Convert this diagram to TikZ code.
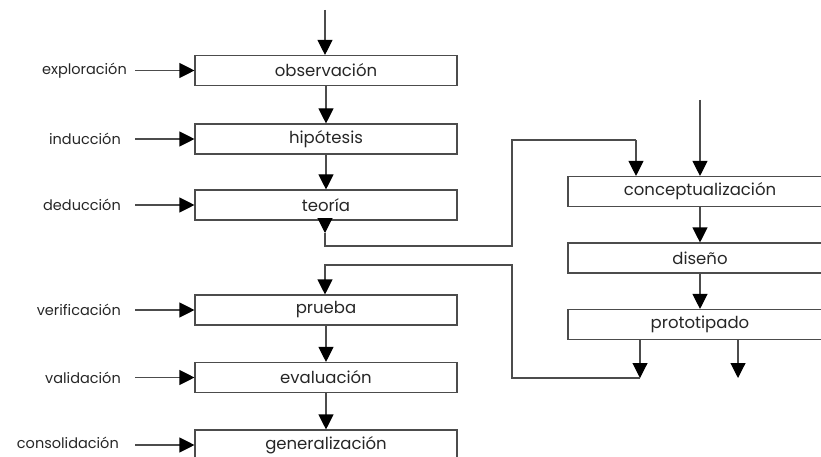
\documentclass[tikz,border=0pt]{standalone}
\usepackage{fontspec}
\setmainfont{Poppins}
\usetikzlibrary{arrows.meta,positioning}
\tikzset{step box/.style={rectangle, draw=black!70, line width=1.1pt,
    minimum width=262pt, minimum height=30pt, inner sep=0pt,
    font=\fontsize{16.5}{18}\selectfont, text=black!85}}
\tikzset{flow edge/.style={draw=black!70, line width=1.1pt,
    -{Triangle[width=15pt,length=15pt,fill=black,color=black]}}}
\tikzset{plain edge/.style={draw=black!70, line width=1.1pt}}
\tikzset{stage/.style={anchor=east, inner sep=0pt,
    font=\fontsize{14.5}{16}\selectfont, text=black!85}}

\begin{document}
\begin{tikzpicture}[x=1pt, y=-1pt]
  \useasboundingbox (0,0) rectangle (821,457);

  % left column
  \node [step box] (obs) at (326, 70.5) {observación};
  \node [step box] (hip) at (326, 139)  {hipótesis};
  \node [step box] (teo) at (326, 205)  {teoría};
  \node [step box] (pru) at (326, 310)  {prueba};
  \node [step box] (eva) at (326, 377.5) {evaluación};
  \node [step box] (gen) at (326, 445)  {generalización};

  % right column
  \node [step box, minimum width=264pt] (con) at (700, 191.5) {conceptualización};
  \node [step box, minimum width=264pt] (dis) at (700, 258)   {diseño};
  \node [step box, minimum width=264pt] (pro) at (700, 324.5) {prototipado};

  % stage labels
  \node [stage] (lexp) at (127, 70.5) {exploración};
  \node [stage] (lind) at (121, 139)  {inducción};
  \node [stage] (lded) at (121, 205)  {deducción};
  \node [stage] (lver) at (121, 310)  {verificación};
  \node [stage] (lval) at (121, 377.5) {validación};
  \node [stage] (lcon) at (119, 443)  {consolidación};

  \coordinate (lx)  at (135, 0);
  \coordinate (in1) at (325, 10);
  \coordinate (in2) at (700, 100);
  \coordinate (t1)  at (325, 233);
  \coordinate (p1)  at (640, 378);
  \coordinate (p2)  at (738, 378);

  \foreach \lab/\stepname in {lexp/obs, lind/hip, lded/teo, lver/pru, lval/eva, lcon/gen}
    \draw [flow edge] (lx |- \stepname.west) -- (\stepname.west);

  \draw [flow edge] (in1) -- (in1 |- obs.north);
  \draw [flow edge] (obs) -- (hip);
  \draw [flow edge] (hip) -- (teo);
  \draw [flow edge] (pru) -- (eva);
  \draw [flow edge] (eva) -- (gen);

  \draw [flow edge] (in2) -- (con);
  \draw [flow edge] (con) -- (dis);
  \draw [flow edge] (dis) -- (pro);

  % teoria -> conceptualizacion
  \draw [flow edge] (t1 |- teo.south) -- (t1);
  \draw [plain edge] (t1) -- (325, 246) -- (512, 246) -- (512, 140) -- (636, 140)
    coordinate (t2);
  \draw [flow edge] (t2) -- (t2 |- con.north);

  % prototipado -> prueba
  \draw [flow edge] (p1 |- pro.south) -- (p1);
  \draw [flow edge] (p2 |- pro.south) -- (p2);
  \draw [flow edge] (p1) -- (512, 378) -- (512, 265) -- (325, 265) -- (t1 |- pru.north);
\end{tikzpicture}
\end{document}
